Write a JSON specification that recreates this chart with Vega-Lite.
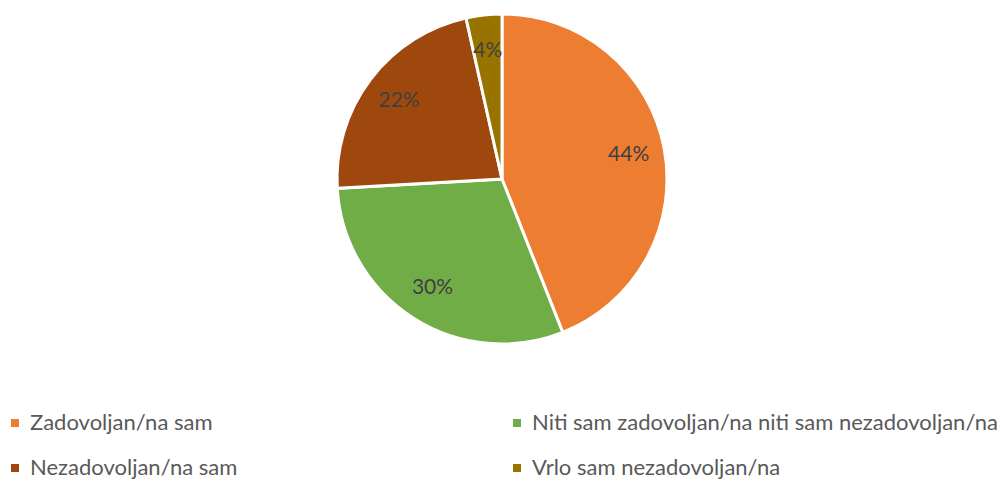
{
  "$schema": "https://vega.github.io/schema/vega-lite/v6.json",
  "width": 1004,
  "height": 358,
  "padding": {"left": 0, "top": 0, "right": 2, "bottom": 122},
  "autosize": "none",
  "background": "white",
  "config": {"view": {"stroke": null}},
  "data": {
    "values": [
      {"category": "Zadovoljan/na sam", "value": 44.0, "label": "44%", "rank": 1},
      {"category": "Niti sam zadovoljan/na niti sam nezadovoljan/na", "value": 30.1, "label": "30%", "rank": 2},
      {"category": "Nezadovoljan/na sam", "value": 22.4, "label": "22%", "rank": 3},
      {"category": "Vrlo sam nezadovoljan/na", "value": 3.5, "label": "4%", "rank": 4}
    ]
  },
  "encoding": {
    "theta": {"field": "value", "type": "quantitative", "stack": true},
    "order": {"field": "rank", "type": "quantitative", "sort": "ascending"}
  },
  "layer": [
    {
      "mark": {"type": "arc", "outerRadius": 165, "stroke": "white", "strokeWidth": 3},
      "encoding": {
        "color": {
          "field": "category",
          "type": "nominal",
          "scale": {
            "domain": ["Zadovoljan/na sam", "Niti sam zadovoljan/na niti sam nezadovoljan/na", "Nezadovoljan/na sam", "Vrlo sam nezadovoljan/na"],
            "range": ["#ED7D31", "#70AD47", "#9E480E", "#997300"]
          },
          "legend": {
            "title": null,
            "orient": "none",
            "direction": "horizontal",
            "legendX": 4,
            "legendY": 412,
            "columns": 2,
            "columnPadding": 268,
            "rowPadding": 23,
            "symbolType": "square",
            "symbolSize": 64,
            "symbolStrokeWidth": 0,
            "symbolOffset": 0,
            "labelOffset": 4,
            "labelFont": "Lato",
            "labelFontSize": 22,
            "labelColor": "#595959",
            "labelLimit": 600
          }
        }
      }
    },
    {
      "mark": {"type": "text", "radius": 129, "font": "Lato", "fontSize": 21, "color": "#404040"},
      "encoding": {
        "text": {"field": "label", "type": "nominal"},
        "detail": {"field": "category", "type": "nominal"}
      }
    }
  ]
}
